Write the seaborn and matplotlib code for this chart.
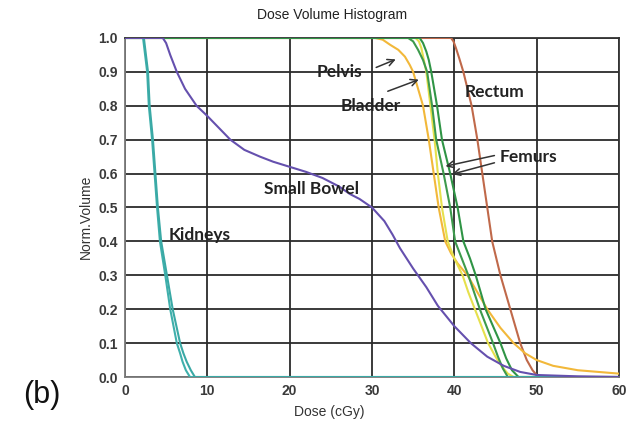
import matplotlib
matplotlib.use("Agg")
import matplotlib.pyplot as plt
import seaborn as sns
import pandas as pd

# Cumulative DVH curves: dose (cGy) vs normalised volume
kidney_l_dose = [0, 2.2, 2.7, 2.9, 3.3, 3.6, 3.9, 4.25, 4.9, 5.5, 6.3, 6.7, 7.0, 7.4, 7.9, 10, 60]
kidney_l_vol = [1, 1, 0.9, 0.8, 0.7, 0.6, 0.5, 0.4, 0.3, 0.2, 0.1, 0.07, 0.045, 0.02, 0, 0, 0]
kidney_r_dose = [0, 2.3, 2.8, 3.0, 3.4, 3.7, 4.0, 4.4, 5.1, 5.8, 6.7, 7.1, 7.5, 8.0, 8.5, 10, 60]
kidney_r_vol = [1, 1, 0.9, 0.8, 0.7, 0.6, 0.5, 0.4, 0.3, 0.2, 0.1, 0.07, 0.045, 0.02, 0, 0, 0]

bowel_dose = [0, 4.6, 5.0, 5.5, 6.3, 7.3, 8.7, 10, 11.4, 12.8, 14.5, 16.4, 18, 20, 22,
              24, 26, 27.3, 28.5, 30, 31.5, 32.5, 33.4, 35, 36.6, 38, 40, 42, 44,
              46, 48, 50, 55, 60]
bowel_vol = [1, 1, 0.985, 0.95, 0.9, 0.85, 0.8, 0.77, 0.735, 0.7, 0.67, 0.65, 0.635,
             0.62, 0.605, 0.587, 0.562, 0.54, 0.525, 0.50, 0.46, 0.42, 0.38, 0.32,
             0.265, 0.21, 0.15, 0.10, 0.06, 0.033, 0.015, 0.006, 0.002, 0.0]

rectum_dose = [0, 39.6, 39.9, 40.2, 40.6, 41.1, 42.1, 42.8, 43.4, 44.0, 44.6, 45.6,
               46.8, 48.0, 48.8, 49.5, 50.2, 60]
rectum_vol = [1, 1, 0.99, 0.97, 0.94, 0.9, 0.8, 0.7, 0.6, 0.5, 0.4, 0.3, 0.2, 0.1,
              0.05, 0.02, 0, 0]

pelvis_dose = [0, 30.4, 31.3, 32.2, 33.2, 34.0, 34.6, 35.0, 35.6, 36.2, 36.9, 37.5,
               38.1, 38.9, 39.6, 40.4, 41.6, 42.8, 44.0, 45.6, 47.2, 48.6, 50, 52,
               55, 60]
pelvis_vol = [1, 1, 0.995, 0.98, 0.965, 0.945, 0.92, 0.9, 0.85, 0.8, 0.7, 0.6, 0.5,
              0.4, 0.365, 0.335, 0.3, 0.25, 0.2, 0.145, 0.1, 0.07, 0.05, 0.033,
              0.02, 0.01]

bladder_dose = [0, 35.3, 35.7, 36.0, 36.6, 37.1, 37.6, 38.0, 38.5, 39.2, 40.0, 41.0,
                41.7, 42.5, 43.3, 44.1, 45.0, 45.8, 46.5, 47.2, 60]
bladder_vol = [1, 1, 0.99, 0.97, 0.9, 0.8, 0.7, 0.6, 0.5, 0.4, 0.35, 0.3, 0.25, 0.2,
               0.15, 0.1, 0.06, 0.03, 0.01, 0, 0]

femur_l_dose = [0, 34.4, 35.0, 35.6, 36.2, 36.7, 37.3, 37.8, 38.7, 39.5, 40.1, 40.9,
                41.7, 42.4, 43.1, 44.7, 45.3, 45.9, 46.5, 60]
femur_l_vol = [1, 1, 0.99, 0.965, 0.935, 0.9, 0.8, 0.7, 0.6, 0.5, 0.4, 0.35, 0.3,
               0.25, 0.2, 0.1, 0.06, 0.025, 0, 0]
femur_r_dose = [0, 35.8, 36.2, 36.6, 36.9, 37.2, 37.9, 38.5, 39.5, 40.4, 41.1, 41.9,
                42.6, 43.2, 43.8, 45.6, 46.3, 47.0, 47.8, 60]
femur_r_vol = [1, 1, 0.985, 0.96, 0.935, 0.9, 0.8, 0.7, 0.6, 0.5, 0.4, 0.35, 0.3,
               0.25, 0.2, 0.1, 0.055, 0.02, 0, 0]

x_ticks = [0, 10, 20, 30, 40, 50, 60]
y_ticks = [0.0, 0.1, 0.2, 0.3, 0.4, 0.5, 0.6, 0.7, 0.8, 0.9, 1.0]

# drawing order: later series sit on top
curves = [
    ("Rectum", rectum_dose, rectum_vol, "#c0694a"),
    ("Pelvis", pelvis_dose, pelvis_vol, "#f2b83a"),
    ("Bladder", bladder_dose, bladder_vol, "#e6e04c"),
    ("Femur L", femur_l_dose, femur_l_vol, "#3d9a4c"),
    ("Femur R", femur_r_dose, femur_r_vol, "#2f9445"),
    ("Kidney L", kidney_l_dose, kidney_l_vol, "#3fb0ac"),
    ("Kidney R", kidney_r_dose, kidney_r_vol, "#3aa9a5"),
    ("Small Bowel", bowel_dose, bowel_vol, "#6550ae"),
]

sns.set_theme(style="white")
plt.rcParams["font.family"] = ["Liberation Sans", "DejaVu Sans"]

fig = plt.figure(figsize=(6.31, 4.22), dpi=100)
ax = fig.add_axes([0.198, 0.1066, 0.783, 0.8034])

for name, d, v, c in curves:
    df = pd.DataFrame({"dose": d, "vol": v})
    sns.lineplot(data=df, x="dose", y="vol", ax=ax, color=c, lw=1.5,
                 sort=False, estimator=None, zorder=3)

ax.set_xlabel("")
ax.set_ylabel("")
ax.set_xlim(0, 60)
ax.set_ylim(0, 1.0)
ax.set_xticks(x_ticks)
ax.set_yticks(y_ticks)
ax.set_xticklabels([str(t) for t in x_ticks])
ax.set_yticklabels([f"{t:.1f}" for t in y_ticks])
ax.grid(True, color="#2b2b2b", lw=1.3, zorder=1)
ax.set_axisbelow(True)
for s in ["top", "right"]:
    ax.spines[s].set_color("#333333")
    ax.spines[s].set_linewidth(1.3)
for s in ["left", "bottom"]:
    ax.spines[s].set_color("#7a7a7a")
    ax.spines[s].set_linewidth(1.3)
ax.tick_params(length=0, pad=5, labelsize=10, labelcolor="#3a3a3a")
for lbl in ax.get_xticklabels() + ax.get_yticklabels():
    lbl.set_fontweight("bold")

# title and axis labels placed in figure pixels
fig.text(332 / 631, 1 - 15 / 422, "Dose Volume Histogram", fontsize=10,
         color="#222222", ha="center", va="center")
fig.text(329 / 631, 1 - 412 / 422, "Dose (cGy)", fontsize=10,
         color="#333333", ha="center", va="center")
fig.text(86 / 631, 1 - 217 / 422, "Norm.Volume", fontsize=10, rotation=90,
         color="#333333", ha="center", va="center")

lab = dict(fontsize=12.5, fontweight="bold", color="#222222",
           family=["Lato", "DejaVu Sans"], ha="center", va="center", zorder=5)
ax.text(26.1, 0.90, "Pelvis", **lab)
ax.text(29.8, 0.80, "Bladder", **lab)
ax.text(44.9, 0.84, "Rectum", **lab)
ax.text(49.0, 0.65, "Femurs", **lab)
ax.text(22.7, 0.555, "Small Bowel", **lab)
ax.text(9.1, 0.42, "Kidneys", **lab)

arrow = dict(arrowstyle="->", color="#333333", lw=1.1)
ax.annotate("", xy=(33.2, 0.94), xytext=(30.2, 0.91), arrowprops=arrow, zorder=5)
ax.annotate("", xy=(36.0, 0.88), xytext=(31.6, 0.84), arrowprops=arrow, zorder=5)
ax.annotate("", xy=(38.6, 0.62), xytext=(45.2, 0.655), arrowprops=arrow, zorder=5)
ax.annotate("", xy=(39.4, 0.596), xytext=(45.2, 0.634), arrowprops=arrow, zorder=5)

fig.text(42 / 631, 1 - 395 / 422, "(b)", fontsize=22, color="#111111",
         ha="center", va="center")

fig.savefig("out.png", dpi=100, facecolor="white")
